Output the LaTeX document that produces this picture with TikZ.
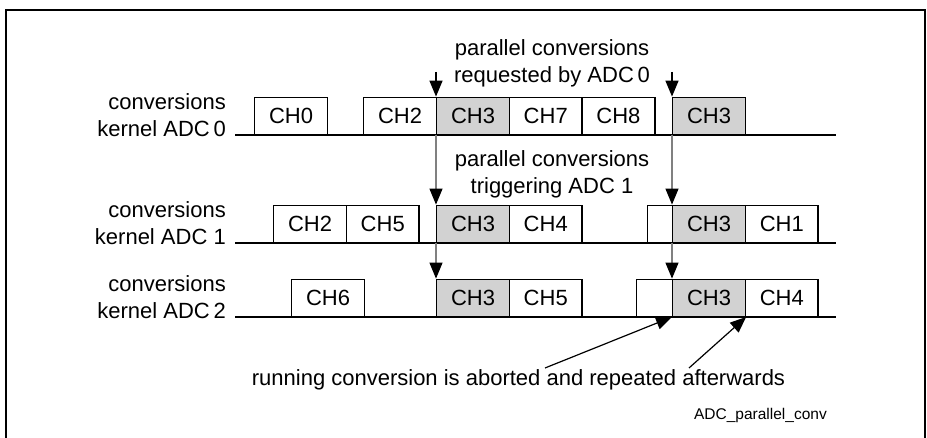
\documentclass[tikz,border=0pt]{standalone}
\usepackage{fontspec}
\setmainfont{Liberation Sans}
\usetikzlibrary{arrows.meta}
\tikzset{
  chbox/.style={draw,line width=1.4pt,minimum width=72.7pt,minimum height=37pt,inner sep=0pt,anchor=south west},
  hitbox/.style={chbox,fill=gray!35},
  lbl/.style={align=right,anchor=east,inner sep=0pt},
  note/.style={align=center,anchor=north,inner sep=0pt},
  tip/.style={-{Triangle[width=13pt,length=16pt,black]}}
}
\begin{document}
\begin{tikzpicture}[x=1pt,y=-1pt,font=\fontsize{22}{27}\selectfont]
\useasboundingbox (0,0) rectangle (927,438);
\draw[line width=2.2pt] (6,440)--(6,10)--(925,10)--(925,440);
% kernel ADC0
\node[lbl] (k0) at (226,115.5) {conversions\\kernel ADC\,0};
\draw[line width=1.8pt] (235,135)--(836,135);
\node[chbox] (r0a) at (254,135) {CH0};
\node[chbox] (r0b) at (363,135) {CH2};
\node[hitbox] (r0c) at (436,135) {CH3};
\node[chbox] (r0d) at (508.7,135) {CH7};
\node[chbox] (r0e) at (581.4,135) {CH8};
\node[hitbox] (r0f) at (672,135) {CH3};
% kernel ADC1
\node[lbl] (k1) at (226,223.5) {conversions\\kernel ADC 1};
\draw[line width=1.8pt] (235,243)--(836,243);
\node[chbox] (r1a) at (273,243) {CH2};
\node[chbox] (r1b) at (345.7,243) {CH5};
\node[hitbox] (r1c) at (436,243) {CH3};
\node[chbox] (r1d) at (508.7,243) {CH4};
\node[chbox,minimum width=25pt] (r1e) at (647,243) {};
\node[hitbox] (r1f) at (672,243) {CH3};
\node[chbox] (r1g) at (744.7,243) {CH1};
% kernel ADC2
\node[lbl] (k2) at (226,297.5) {conversions\\kernel ADC\,2};
\draw[line width=1.8pt] (235,317)--(836,317);
\node[chbox] (r2a) at (291,317) {CH6};
\node[hitbox] (r2b) at (436,317) {CH3};
\node[chbox] (r2c) at (508.7,317) {CH5};
\node[chbox,minimum width=36pt] (r2d) at (636,317) {};
\node[hitbox] (r2e) at (672,317) {CH3};
\node[chbox] (r2f) at (744.7,317) {CH4};
% requests and triggers
\node[note] (req) at (552,39) {parallel conversions\\requested by ADC\,0};
\node[note] (trg) at (552,150) {parallel conversions\\triggering ADC 1};
\coordinate (t0) at (436,72);
\coordinate (t1) at (672,72);
\draw[line width=1.4pt,tip] (t0)--(r0c.north west);
\draw[line width=1.4pt,tip] (t1)--(r0f.north west);
\draw[gray,line width=1.2pt,tip] (r0c.south west)--(r1c.north west);
\draw[gray,line width=1.2pt,tip] (r1c.south west)--(r2b.north west);
\draw[gray,line width=1.2pt,tip] (r0f.south west)--(r1f.north west);
\draw[gray,line width=1.2pt,tip] (r1f.south west)--(r2e.north west);
% aborted conversion
\node[anchor=base,inner sep=0pt] (run) at (518.5,385) {running conversion is aborted and repeated afterwards};
\coordinate (p0) at (545,368);
\coordinate (p1) at (689,368);
\draw[line width=1.2pt,tip] (p0)--(r2e.south west);
\draw[line width=1.2pt,tip] (p1)--(r2e.south east);
\node[anchor=base east,inner sep=0pt,font=\fontsize{15.5}{18}\selectfont] (tag) at (827,420) {ADC\_parallel\_conv};
\end{tikzpicture}
\end{document}
